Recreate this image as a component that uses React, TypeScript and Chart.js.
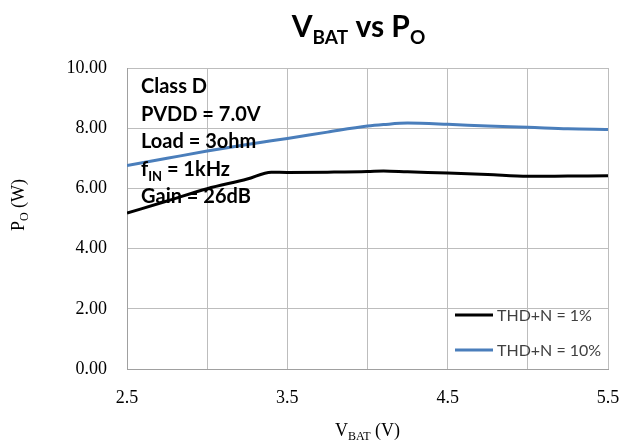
import React, { useEffect, useRef } from "react";
import { Chart, registerables } from "chart.js";

Chart.register(...registerables);

const vbat = [2.5, 2.75, 3.0, 3.25, 3.4, 3.5, 3.75, 4.0, 4.1, 4.25, 4.5, 4.75, 5.0, 5.25, 5.5];
const thd1 = [5.18, 5.58, 5.99, 6.31, 6.54, 6.53, 6.54, 6.56, 6.58, 6.55, 6.51, 6.46, 6.4, 6.41, 6.42];
const thd10 = [6.76, 7.0, 7.24, 7.46, 7.58, 7.66, 7.87, 8.07, 8.12, 8.17, 8.13, 8.07, 8.03, 7.98, 7.96];
const xTickLabels = ["2.5", "3.5", "4.5", "5.5"];
const seriesNames = ["THD+N = 1%", "THD+N = 10%"];
const seriesColors = ["#000000", "#4a7ebb"];
const notes = [
  [{ t: "Class D" }],
  [{ t: "PVDD = 7.0V" }],
  [{ t: "Load = 3ohm" }],
  [{ t: "f" }, { t: "IN", sub: true }, { t: " = 1kHz" }],
  [{ t: "Gain = 26dB" }],
];

type Part = { t: string; sub?: boolean };

function drawRich(
  ctx: CanvasRenderingContext2D,
  parts: Part[],
  x: number,
  y: number,
  family: string,
  weight: string,
  size: number,
  subSize: number,
  subDrop: number,
  align: "left" | "center"
) {
  const fontFor = (p: Part) => `${weight} ${p.sub ? subSize : size}px ${family}`;
  let total = 0;
  const widths = parts.map((p) => {
    ctx.font = fontFor(p);
    const w = ctx.measureText(p.t).width;
    total += w;
    return w;
  });
  let cx = align === "center" ? x - total / 2 : x;
  ctx.textAlign = "left";
  ctx.textBaseline = "alphabetic";
  parts.forEach((p, i) => {
    ctx.font = fontFor(p);
    ctx.fillText(p.t, cx, p.sub ? y + subDrop : y);
    cx += widths[i];
  });
}

const overlay = {
  id: "overlay",
  afterDraw(chart: any) {
    const ctx: CanvasRenderingContext2D = chart.ctx;
    const area = chart.chartArea;
    ctx.save();
    ctx.fillStyle = "#000";
    // title
    drawRich(
      ctx,
      [{ t: "V" }, { t: "BAT", sub: true }, { t: " vs P" }, { t: "O", sub: true }],
      (area.left + area.right) / 2 - 9,
      37,
      "Lato",
      "bold",
      30,
      19,
      7,
      "center"
    );
    // notes
    notes.forEach((line, i) => {
      drawRich(ctx, line as Part[], area.left + 14, 93 + i * 27.5, "Lato", "bold", 20, 13, 5, "left");
    });
    // x title
    drawRich(
      ctx,
      [{ t: "V" }, { t: "BAT", sub: true }, { t: " (V)" }],
      (area.left + area.right) / 2,
      436,
      "Liberation Serif",
      "normal",
      18,
      12,
      4,
      "center"
    );
    // y title
    ctx.save();
    ctx.translate(24, 205);
    ctx.rotate(-Math.PI / 2);
    drawRich(ctx, [{ t: "P" }, { t: "O", sub: true }, { t: " (W)" }], 0, 0, "Liberation Serif", "normal", 18, 12, 4, "center");
    ctx.restore();
    // legend
    const ly = [315, 350];
    seriesNames.forEach((name, i) => {
      ctx.strokeStyle = seriesColors[i];
      ctx.lineWidth = 3;
      ctx.beginPath();
      ctx.moveTo(455, ly[i]);
      ctx.lineTo(493, ly[i]);
      ctx.stroke();
      ctx.fillStyle = "#404040";
      ctx.font = "normal 16px Lato";
      ctx.textAlign = "left";
      ctx.textBaseline = "middle";
      ctx.fillText(name, 497, ly[i] + 1);
    });
    ctx.restore();
  },
};

export default function App() {
  const ref = useRef<HTMLCanvasElement | null>(null);
  useEffect(() => {
    document.body.style.margin = "0";
    const canvas = ref.current!;
    const chart = new Chart(canvas, {
      type: "line",
      data: {
        datasets: [
          {
            label: seriesNames[0],
            data: vbat.map((x, i) => ({ x, y: thd1[i] })),
            borderColor: seriesColors[0],
            borderWidth: 3,
            pointRadius: 0,
            cubicInterpolationMode: "monotone",
          },
          {
            label: seriesNames[1],
            data: vbat.map((x, i) => ({ x, y: thd10[i] })),
            borderColor: seriesColors[1],
            borderWidth: 3,
            pointRadius: 0,
            cubicInterpolationMode: "monotone",
          },
        ],
      },
      options: {
        animation: false,
        responsive: false,
        layout: { autoPadding: false, padding: { left: 0, right: 11, top: 68, bottom: 0 } },
        plugins: { legend: { display: false }, title: { display: false }, tooltip: { enabled: false } },
        scales: {
          x: {
            type: "linear",
            min: 2.5,
            max: 5.5,
            afterFit: (s: any) => {
              s.height = 72;
              s.paddingLeft = 0;
              s.paddingRight = 0;
            },
            afterBuildTicks: (s: any) => {
              s.ticks = [2.5, 3.0, 3.5, 4.0, 4.5, 5.0, 5.5].map((v) => ({ value: v }));
            },
            ticks: {
              autoSkip: false,
              maxRotation: 0,
              padding: 18,
              color: "#000",
              font: { family: "Liberation Serif", size: 18 },
              callback: (v: any) => {
                const s = Number(v).toFixed(1);
                return xTickLabels.includes(s) ? s : "";
              },
            },
            grid: { color: "#bdbdbd", drawTicks: false, lineWidth: 1 },
            border: { color: "#a0a0a0" },
          },
          y: {
            min: 0,
            max: 10,
            afterFit: (s: any) => {
              s.width = 127;
              s.paddingTop = 0;
              s.paddingBottom = 0;
            },
            ticks: {
              stepSize: 2,
              padding: 20,
              color: "#000",
              font: { family: "Liberation Serif", size: 18 },
              callback: (v: any) => Number(v).toFixed(2),
            },
            grid: { color: "#bdbdbd", drawTicks: false, lineWidth: 1 },
            border: { color: "#a0a0a0" },
          },
        },
      },
      plugins: [overlay],
    });
    return () => chart.destroy();
  }, []);
  return <canvas ref={ref} width={619} height={441} style={{ display: "block" }} />;
}
